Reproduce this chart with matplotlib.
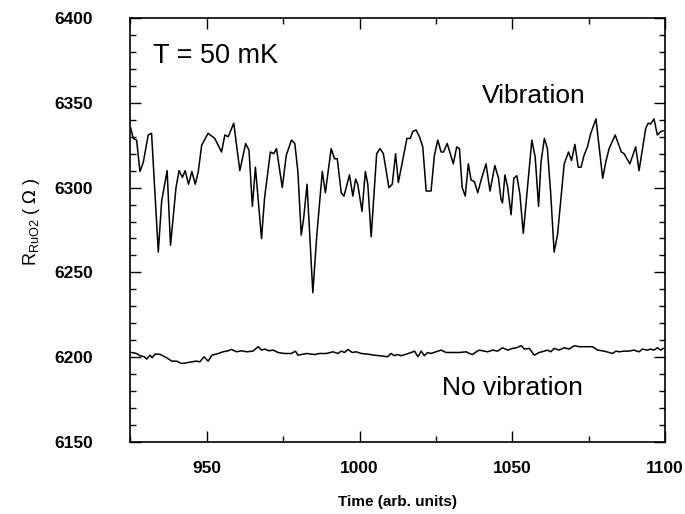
import matplotlib
matplotlib.use("Agg")
import matplotlib.pyplot as plt
from matplotlib.ticker import MultipleLocator

plt.rcParams['font.family'] = ['Liberation Sans', 'DejaVu Sans']

# vibration trace (time, resistance)
vib_t = [925.1, 925.9, 927.0, 928.1, 929.2, 930.8, 931.9, 934.1, 935.2, 937.0,
         938.1, 939.9, 940.9, 942.0, 942.9, 944.0, 945.1, 946.2, 947.2, 948.3,
         950.4, 952.6, 954.8, 955.9, 957.0, 958.8, 960.8, 962.7, 963.8, 964.9,
         965.9, 967.9, 968.9, 970.8, 971.9, 972.8, 974.7, 976.0, 977.7, 978.8,
         979.8, 980.9, 981.7, 982.8, 984.7, 986.0, 987.8, 988.8, 990.7, 991.8,
         992.7, 994.0, 994.9, 996.7, 997.8, 998.7, 999.4, 1000.8, 1001.9, 1002.7,
         1003.8, 1005.6, 1006.7, 1007.8, 1009.6, 1010.7, 1011.8, 1012.7, 1015.5, 1016.6,
         1017.4, 1018.5, 1019.6, 1020.7, 1021.8, 1023.4, 1024.5, 1025.6, 1026.7, 1027.5,
         1028.7, 1030.7, 1031.8, 1032.7, 1033.6, 1034.6, 1035.6, 1036.5, 1037.6, 1038.7,
         1039.8, 1041.4, 1042.7, 1044.3, 1045.5, 1046.3, 1046.8, 1047.6, 1048.5, 1049.6,
         1050.5, 1051.5, 1052.5, 1053.6, 1056.4, 1057.5, 1058.6, 1059.4, 1060.5, 1061.5,
         1062.6, 1063.7, 1064.8, 1067.0, 1068.4, 1069.4, 1070.5, 1071.6, 1072.5, 1073.5,
         1074.6, 1075.7, 1077.4, 1079.6, 1080.6, 1081.7, 1083.7, 1085.7, 1086.6, 1088.5,
         1090.4, 1091.5, 1093.7, 1094.5, 1095.3, 1096.4, 1097.5, 1098.6, 1099.4]
vib_r = [6335, 6329, 6328, 6309.5, 6315, 6331, 6332, 6262, 6292, 6310,
         6266, 6300, 6310, 6306, 6310, 6302, 6309.5, 6302, 6309.5, 6325,
         6332, 6329, 6321, 6331, 6330, 6338, 6310, 6326, 6322, 6289,
         6312, 6270, 6294, 6321, 6320, 6323, 6300, 6319, 6328, 6326,
         6309.5, 6272, 6282, 6302, 6238, 6272, 6309.5, 6297, 6323, 6317,
         6317, 6297, 6295, 6307.5, 6295, 6305, 6302, 6286, 6309.5, 6302,
         6271, 6320, 6323, 6320, 6300, 6302, 6320, 6303, 6329, 6329,
         6333, 6334, 6330, 6324, 6298, 6298, 6319, 6328, 6321, 6321,
         6326, 6314, 6324, 6323, 6300, 6295, 6314, 6304.5, 6303.5, 6297,
         6304.5, 6314, 6298, 6313, 6305.5, 6293, 6291, 6307.5, 6300, 6284,
         6305.5, 6307, 6296, 6273, 6328, 6318, 6289, 6315, 6329, 6323,
         6296, 6262, 6272, 6314, 6321, 6316, 6325.5, 6312, 6312, 6319,
         6324, 6332, 6340.5, 6305.5, 6315, 6323, 6331, 6321, 6320, 6314,
         6324, 6310, 6335, 6338, 6337.5, 6340.5, 6331, 6333, 6333.5]

# no-vibration trace
quiet_t = [925.4, 927.0, 928.1, 929.5, 930.3, 931.4, 932.1, 933.0, 934.6, 936.8,
           938.5, 940.1, 941.7, 943.4, 945.0, 946.6, 947.7, 949.1, 950.4, 951.7,
           953.7, 955.3, 957.0, 958.1, 959.7, 961.3, 963.0, 965.1, 966.8, 967.9,
           969.0, 970.3, 971.7, 973.3, 975.5, 977.7, 979.0, 979.8, 982.6, 985.3,
           986.9, 989.1, 991.3, 992.9, 994.0, 995.1, 996.2, 997.6, 998.9, 1000.6,
           1002.7, 1004.9, 1006.5, 1009.2, 1010.3, 1011.4, 1012.5, 1013.6, 1015.3, 1016.9,
           1018.0, 1019.1, 1020.2, 1021.2, 1022.3, 1023.4, 1025.0, 1026.7, 1028.3, 1030.5,
           1032.7, 1034.9, 1036.0, 1037.0, 1038.2, 1039.2, 1040.8, 1041.9, 1043.6, 1045.2,
           1046.8, 1048.5, 1050.1, 1051.4, 1052.9, 1054.0, 1055.6, 1057.2, 1058.8, 1060.5,
           1061.5, 1062.6, 1063.7, 1065.3, 1067.0, 1068.6, 1070.3, 1071.9, 1074.1, 1076.3,
           1077.9, 1080.1, 1081.7, 1082.8, 1083.9, 1085.0, 1086.6, 1088.2, 1089.8, 1091.5,
           1092.6, 1094.2, 1095.3, 1096.4, 1097.5, 1098.6, 1099.4]
quiet_r = [6202.8, 6202.2, 6200.9, 6200.3, 6198.9, 6201.2, 6199.7, 6201.8, 6201.8, 6199.7,
           6197.7, 6197.7, 6196.3, 6196.7, 6197.3, 6197.7, 6197.3, 6200.3, 6197.7, 6201.2,
           6202.2, 6203.2, 6203.8, 6204.6, 6203.2, 6203.8, 6203.2, 6203.6, 6206.2, 6204.2,
           6204.8, 6203.8, 6204.2, 6202.8, 6202.2, 6202.2, 6203.6, 6201.2, 6202.2, 6201.6,
           6202.2, 6202.2, 6203.2, 6202.2, 6203.6, 6202.8, 6204.6, 6202.8, 6203.2, 6202.2,
           6201.8, 6201.2, 6200.9, 6200.3, 6202.2, 6200.9, 6201.6, 6200.9, 6201.8, 6202.8,
           6203.6, 6200.3, 6203.6, 6200.9, 6202.8, 6202.2, 6203.2, 6204.2, 6202.8, 6202.8,
           6202.8, 6203.2, 6202.2, 6201.6, 6203.2, 6204.2, 6203.6, 6203.2, 6204.2, 6203.6,
           6205.6, 6204.2, 6205.2, 6205.6, 6206.8, 6204.8, 6205.2, 6201.2, 6202.8, 6203.6,
           6204.2, 6203.2, 6205.2, 6204.2, 6205.6, 6204.8, 6206.8, 6206.2, 6206.2, 6206.2,
           6204.2, 6203.6, 6202.8, 6202.2, 6203.6, 6203.2, 6203.6, 6203.6, 6204.2, 6203.2,
           6204.8, 6204.2, 6204.8, 6204.2, 6205.6, 6204.2, 6205.2]

x_ticks = [950, 1000, 1050, 1100]
y_ticks = [6150, 6200, 6250, 6300, 6350, 6400]

fig = plt.figure(figsize=(6.85, 5.14), dpi=100)
ax = fig.add_axes([0.1905, 0.14, 0.7803, 0.825])

ax.plot(vib_t, vib_r, color='black', lw=1.1)
ax.plot(quiet_t, quiet_r, color='black', lw=1.1)

ax.set_xlim(925, 1100)
ax.set_ylim(6150, 6400)
ax.set_xticks(x_ticks)
ax.set_yticks(y_ticks)
ax.xaxis.set_minor_locator(MultipleLocator(25))
ax.yaxis.set_minor_locator(MultipleLocator(10))
ax.tick_params(which='both', direction='in', top=True, right=True,
               labelsize=12.5, width=1)
ax.tick_params(axis='x', pad=14)
ax.tick_params(axis='y', pad=27)
ax.tick_params(which='major', length=8)
ax.tick_params(which='minor', length=4)
for lbl in ax.get_xticklabels() + ax.get_yticklabels():
    lbl.set_fontweight('bold')
for s in ax.spines.values():
    s.set_linewidth(1.2)

ax.set_xlabel('Time (arb. units)', fontsize=11, fontweight='bold')
ax.set_ylabel(r'R$_{\mathregular{RuO2}}$ ( $\Omega$ )', fontsize=13)
ax.xaxis.set_label_coords(0.5, -0.125)
ax.yaxis.set_label_coords(-0.165, 0.52)

ax.text(932.3, 6373.4, 'T = 50 mK', fontsize=19.5, va='baseline', ha='left')
ax.text(1039.9, 6350, 'Vibration', fontsize=19, va='baseline', ha='left')
ax.text(1050.2, 6177.5, 'No vibration', fontsize=19, va='baseline', ha='center')

fig.savefig('out.png', dpi=100)
plt.close(fig)
